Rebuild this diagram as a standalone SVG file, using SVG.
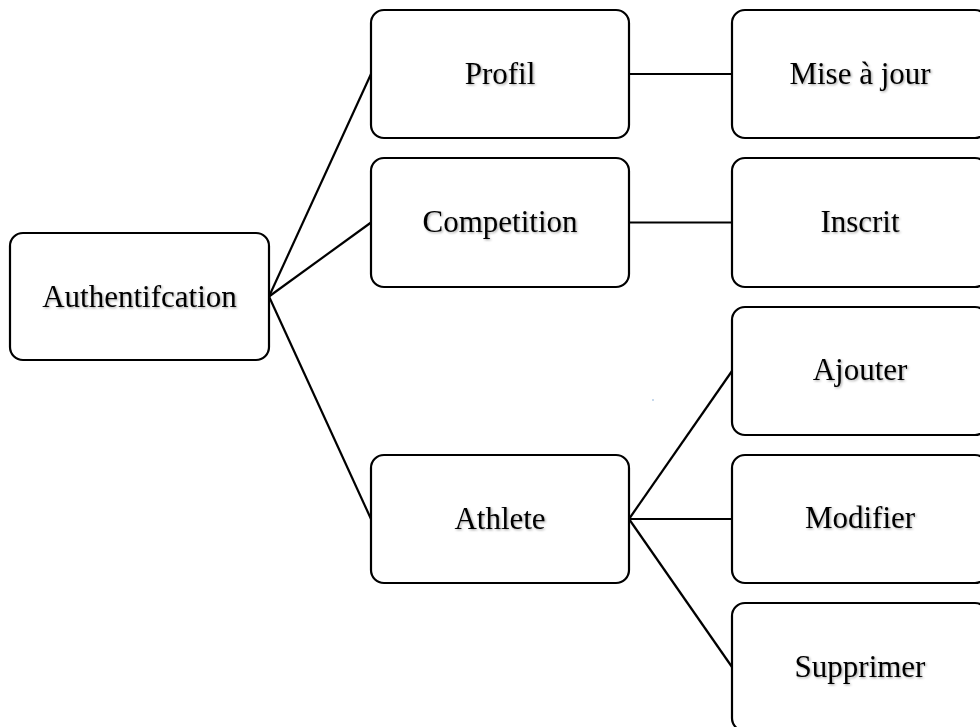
<svg xmlns="http://www.w3.org/2000/svg" width="980" height="727" viewBox="0 0 980 727">
  <defs>
    <filter id="soft-shadow" x="-10%" y="-30%" width="120%" height="160%">
      <feDropShadow dx="1.2" dy="1.2" stdDeviation="0.8" flood-color="#000" flood-opacity="0.35"/>
    </filter>
  </defs>
  <style>
    .box { fill: #fff; stroke: #000; stroke-width: 2.2; }
    .label { font-family: "Liberation Serif", "Times New Roman", serif; font-size: 31px; fill: #000; text-anchor: middle; filter: url(#soft-shadow); }
    .link { stroke: #000; stroke-width: 2.2; fill: none; }
  </style>
  <rect width="980" height="727" fill="#fff"/>

  <!-- connectors -->
  <g id="connectors">
    <line class="link" x1="269" y1="296.5" x2="371" y2="74"/>
    <line class="link" x1="269" y1="296.5" x2="371" y2="222.5"/>
    <line class="link" x1="269" y1="296.5" x2="371" y2="519"/>
    <line class="link" x1="629" y1="74" x2="732" y2="74"/>
    <line class="link" x1="629" y1="222.5" x2="732" y2="222.5"/>
    <line class="link" x1="629" y1="519" x2="732" y2="371"/>
    <line class="link" x1="629" y1="519" x2="732" y2="519"/>
    <line class="link" x1="629" y1="519" x2="732" y2="667"/>
  </g>

  <!-- root -->
  <g id="authentification">
    <rect class="box" x="10" y="233" width="259" height="127" rx="13"/>
    <text class="label" x="139.5" y="307">Authentifcation</text>
  </g>

  <!-- second level -->
  <g id="profil">
    <rect class="box" x="371" y="10" width="258" height="128" rx="13"/>
    <text class="label" x="500" y="84">Profil</text>
  </g>
  <g id="competition">
    <rect class="box" x="371" y="158" width="258" height="129" rx="13"/>
    <text class="label" x="500" y="232">Competition</text>
  </g>
  <g id="athlete">
    <rect class="box" x="371" y="455" width="258" height="128" rx="13"/>
    <text class="label" x="500" y="529">Athlete</text>
  </g>

  <!-- third level -->
  <g id="mise-a-jour">
    <rect class="box" x="732" y="10" width="256" height="128" rx="13"/>
    <text class="label" x="860" y="84">Mise à jour</text>
  </g>
  <g id="inscrit">
    <rect class="box" x="732" y="158" width="256" height="129" rx="13"/>
    <text class="label" x="860" y="232">Inscrit</text>
  </g>
  <g id="ajouter">
    <rect class="box" x="732" y="307" width="256" height="128" rx="13"/>
    <text class="label" x="860" y="380">Ajouter</text>
  </g>
  <g id="modifier">
    <rect class="box" x="732" y="455" width="256" height="128" rx="13"/>
    <text class="label" x="860" y="528">Modifier</text>
  </g>
  <g id="supprimer">
    <rect class="box" x="732" y="603" width="256" height="128" rx="13"/>
    <text class="label" x="860" y="677">Supprimer</text>
  </g>

  <!-- stray speck -->
  <rect x="652.5" y="399" width="1" height="2" fill="#8fb3d9"/>
</svg>
